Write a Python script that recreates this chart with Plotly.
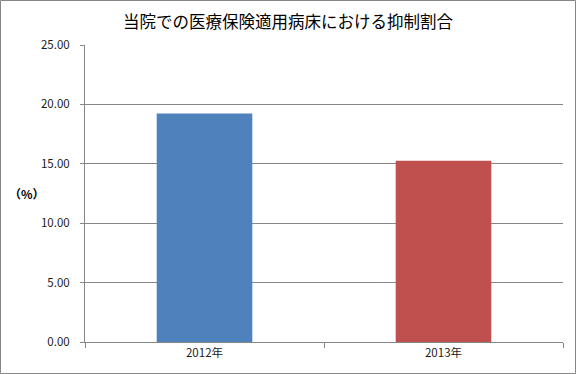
import plotly.graph_objects as go

categories = ["2012年", "2013年"]
values = [19.24, 15.25]
colors = ["#4F81BD", "#C0504D"]
y_ticks = [0, 5, 10, 15, 20, 25]
y_tick_labels = ["0.00", "5.00", "10.00", "15.00", "20.00", "25.00"]

W, H = 576, 374
ML, MR, MT, MB = 85, 13, 45, 32
pw, ph = W - ML - MR, H - MT - MB

fig = go.Figure(go.Bar(x=categories, y=values, marker=dict(color=colors, line=dict(width=0)),
                       width=0.4))

font = "Noto Sans CJK JP, Meiryo, sans-serif"
fig.update_layout(
    width=W, height=H,
    margin=dict(l=ML, r=MR, t=MT, b=MB, pad=0),
    paper_bgcolor="white", plot_bgcolor="white",
    font=dict(family=font, size=11.5, color="#1a1a1a"),
    showlegend=False,
    title=dict(text="当院での医療保険適用病床における抑制割合", x=0.5, xanchor="center",
               y=1 - 22 / H, yanchor="middle", font=dict(size=16.5, color="#000000", family=font)),
    xaxis=dict(showgrid=False, showline=True, linecolor="#868686", linewidth=1,
               ticks="outside", tickson="boundaries", ticklen=5, tickcolor="#868686",
               tickfont=dict(size=11.5)),
    yaxis=dict(range=[0, 25], tickvals=y_ticks, ticktext=y_tick_labels,
               showgrid=True, gridcolor="#868686", gridwidth=1,
               showline=True, linecolor="#868686", linewidth=1,
               ticks="outside", ticklen=4, tickcolor="#868686",
               zeroline=False, tickfont=dict(size=11.5), ticklabelstandoff=8),
    bargap=0.6,
)

fig.add_annotation(text="（%）", xref="paper", yref="paper",
                   x=(27 - ML) / pw, y=(H - MB - 193) / ph, showarrow=False,
                   xanchor="center", yanchor="middle",
                   font=dict(size=12, color="#000000", family="Noto Sans CJK JP", weight="bold"))

# outer border
fig.add_shape(type="rect", xref="paper", yref="paper",
              x0=(0.5 - ML) / pw, x1=(W - 0.5 - ML) / pw,
              y0=(-(MB - 0.5)) / ph, y1=(H - MB - 0.5) / ph,
              line=dict(color="#868686", width=1), fillcolor="rgba(0,0,0,0)", layer="above")

fig.write_html("out.html", config={"displayModeBar": False},
               post_script="document.body.style.margin='0';")
